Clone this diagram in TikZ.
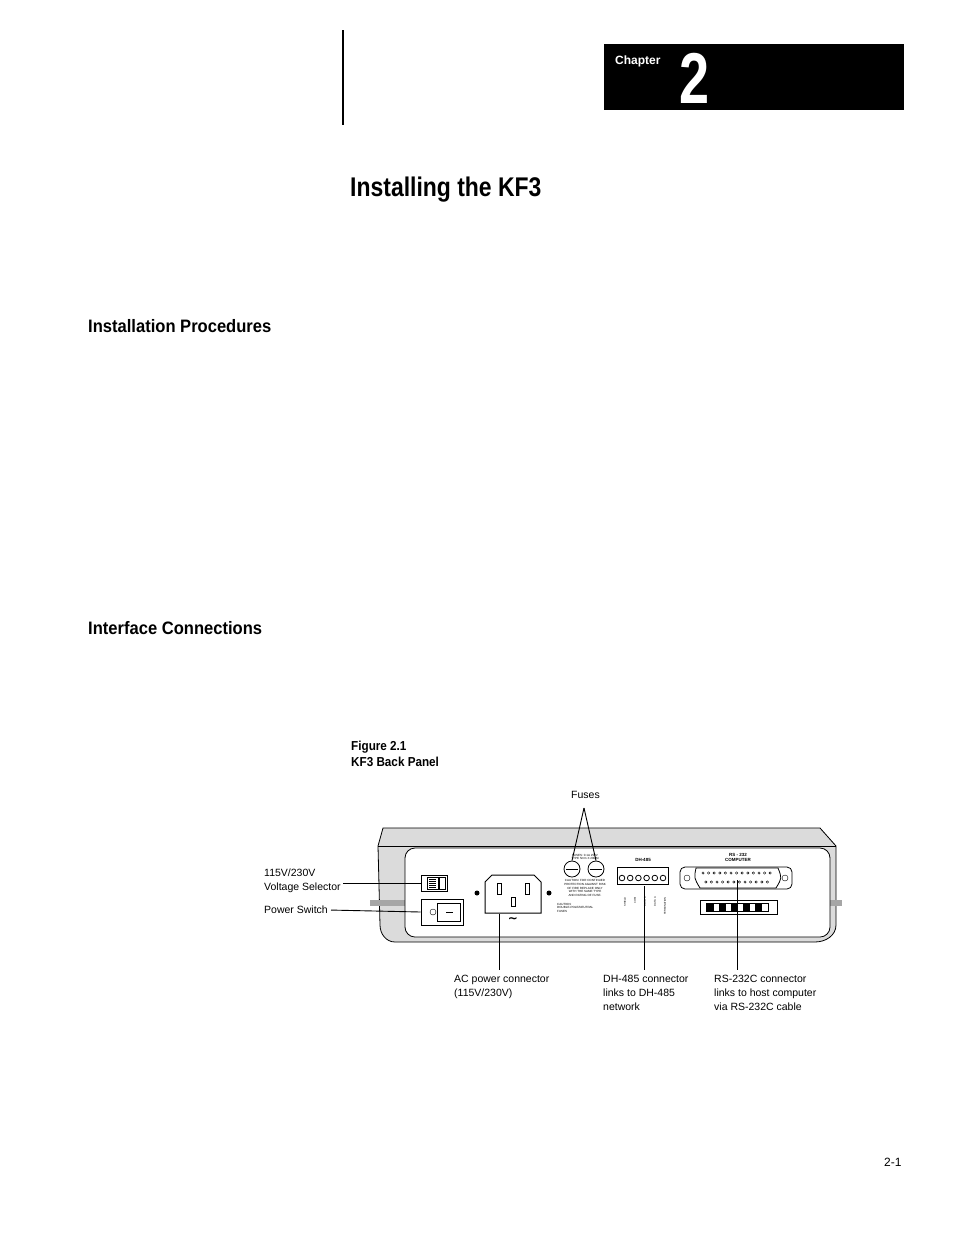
\documentclass[tikz,border=0pt]{standalone}
\usepackage{fontspec}
\setmainfont{Liberation Sans}
\newfontfamily\djv{DejaVu Sans}
\begin{document}
\begin{tikzpicture}[x=1pt,y=-1pt,
  lbl/.style={anchor=north west,inner sep=0pt,font=\fontsize{10.5}{14}\selectfont,align=left},
  tiny/.style={inner sep=0pt,font=\fontsize{3}{3.6}\selectfont,align=center},
  lead/.style={line width=0.9pt}]
\useasboundingbox (0,0) rectangle (954,1235);
\draw[line width=1.5pt] (343,30) -- (343,125);
\fill (604,44) rectangle (904,110);
\node[anchor=west,text=white,font=\bfseries\fontsize{12}{14}\selectfont,inner sep=0pt] (ch) at (615,61) {Chapter};
\node[text=white,font=\bfseries\fontsize{72}{72}\selectfont\addfontfeature{FakeStretch=0.75},inner sep=0pt] (n) at (695,78) {2};
\node[anchor=west,inner sep=0pt,font=\bfseries\fontsize{27}{30}\selectfont\addfontfeature{FakeStretch=0.85}] (t) at (350,190) {Installing the KF3};
\node[anchor=west,inner sep=0pt,font=\bfseries\fontsize{18}{22}\selectfont\addfontfeature{FakeStretch=0.92}] (h1) at (88,326) {Installation Procedures};
\node[anchor=west,inner sep=0pt,font=\bfseries\fontsize{18}{22}\selectfont\addfontfeature{FakeStretch=0.92}] (h2) at (88,628) {Interface Connections};
\node[anchor=north west,inner sep=0pt,align=left,font=\bfseries\fontsize{13}{16}\selectfont\addfontfeature{FakeStretch=0.9}] (fig) at (351,741) {Figure 2.1\\KF3 Back Panel};
% device body
\draw[fill=gray!28,line width=0.8pt] (383,828) -- (820,828) -- (836,846) -- (836,925) to[out=-90,in=0] (815,942) -- (395,942) to[out=180,in=-90] (380,925) -- (378,846) -- cycle;
\draw[line width=0.6pt] (378,846) -- (836,846);
\fill[gray!70] (370,900) rectangle (405,906);
\fill[gray!70] (812,900) rectangle (842,906);
\draw[fill=white,line width=0.8pt,rounded corners=10pt] (405,848) rectangle (830,937);
% voltage selector
\node[draw,line width=0.8pt,minimum width=26pt,minimum height=16pt,inner sep=0pt] (vs) at (434,883) {};
\draw (427,877) rectangle (438,889); \draw[fill=white] (439,877) rectangle (445,889);
\foreach \y in {879,881,...,887} \draw[line width=0.3pt] (429,\y) -- (436,\y);
% power switch
\node[draw,line width=0.8pt,minimum width=42pt,minimum height=26pt,inner sep=0pt] (ps) at (442,912) {};
\draw (433,912) circle (3pt); \draw (437,903) rectangle (460,921); \draw[line width=1pt] (446,912) -- (453,912);
% AC connector
\fill (477,893) circle (2.5pt); \fill (549,893) circle (2.5pt);
\draw[line width=1pt] (492,875) -- (534,875) -- (541,882) -- (541,913) -- (485,913) -- (485,882) -- cycle;
\node[draw=none,inner sep=0pt,minimum size=1pt] (ac) at (499,913) {};
\draw (497,883) rectangle (501,894); \draw (525,883) rectangle (529,894); \draw (511,897) rectangle (515,906);
\node[inner sep=0pt,font=\djv\bfseries\fontsize{12}{12}\selectfont] at (513,920) {∼};
% fuses
\node[draw,circle,line width=0.8pt,minimum size=16pt,inner sep=0pt] (f1) at (572,869) {};
\node[draw,circle,line width=0.8pt,minimum size=16pt,inner sep=0pt] (f2) at (596,869) {};
\draw (566,869)--(578,869); \draw (590,869)--(602,869);
\node[tiny] at (585,857) {FUSES: 0.1A 250V\\TYPE 5mm X 20MM};
\node[tiny] at (585,888) {CAUTION: FOR CONTINUED\\PROTECTION AGAINST RISK\\OF FIRE REPLACE ONLY\\WITH THE SAME TYPE\\AND RATING OF FUSE.};
\node[tiny,anchor=north west,align=left] at (557,903) {CAUTION:\\DOUBLE-POLE/NEUTRAL\\FUSES};
% DH-485
\node[inner sep=0pt,font=\bfseries\fontsize{4.5}{5}\selectfont] at (643,860) {DH-485};
\node[draw,line width=0.8pt,minimum width=51pt,minimum height=17pt,inner sep=0pt] (dh) at (643,876) {};
\foreach \i in {0,...,5} \draw[line width=0.8pt] (622+\i*8.2,878) circle (2.8pt);
\foreach \i/\s in {0/SHIELD,1/COM,2/DATA B,3/DATA A,4/TERMINATION} \node[tiny,rotate=90,anchor=east,font=\fontsize{2.6}{3}\selectfont] at (625+\i*10,897) {\s};
% RS-232
\node[inner sep=0pt,font=\bfseries\fontsize{4.5}{5}\selectfont,align=center] at (738,857) {RS - 232\\COMPUTER};
\draw[line width=0.8pt,rounded corners=5pt] (680,867) rectangle (792,889);
\draw[line width=0.8pt] (696,868) .. controls (694,878) .. (700,888) -- (776,888) .. controls (782,878) .. (778,868) -- cycle;
\draw (687,878) circle (3pt); \draw (785,878) circle (3pt);
\foreach \i in {0,...,12} \draw[line width=0.4pt] (703+\i*5.6,873) circle (1.2pt);
\foreach \i in {0,...,11} \draw[line width=0.4pt] (705.8+\i*5.6,882) circle (1.2pt);
\node[coordinate] (rs) at (737,880) {};
\draw[line width=0.8pt] (700,900) rectangle (777,914);
\foreach \x in {707,719,731,743,755} \fill (\x,903) rectangle (\x+7,911);
\draw (706,903) rectangle (768,911);
% labels and leaders
\node[lbl] (lfu) at (571,791) {Fuses};
\coordinate (fa) at (584,808);
\draw[lead] (fa) -- (f1.north); \draw[lead] (fa) -- (f2.north);
\node[lbl] (lvs) at (264,869) {115V/230V\\Voltage Selector};
\draw[lead] (343,883) -- (vs.west);
\node[lbl] (lps) at (264,906) {Power Switch};
\draw[lead] (lps.east) ++(3pt,0) coordinate (pse) -- (ps.west);
\node[lbl] (lac) at (454,975) {AC power connector\\(115V/230V)};
\node[lbl] (ldh) at (603,975) {DH-485 connector\\links to DH-485\\network};
\node[lbl] (lrs) at (714,975) {RS-232C connector\\links to host computer\\via RS-232C cable};
\draw[lead] (ac) -- (499,970);
\draw[lead] (644,886) -- (644,970);
\draw[lead] (rs) -- (737,970);
\node[anchor=west,inner sep=0pt,font=\fontsize{12}{14}\selectfont] (pg) at (884,1162) {2-1};
\end{tikzpicture}
\end{document}
